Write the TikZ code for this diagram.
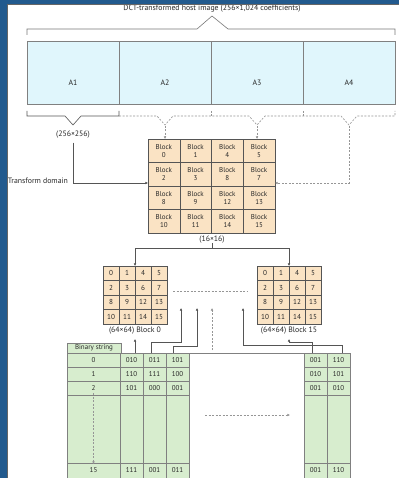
\documentclass[tikz,border=0pt]{standalone}
\usepackage{fontspec}
\setmainfont{PT Sans}
\usetikzlibrary{arrows.meta}
\definecolor{bluebg}{RGB}{34,90,142}
\definecolor{cyanfill}{RGB}{224,246,252}
\definecolor{peach}{RGB}{250,227,196}
\definecolor{greenfill}{RGB}{215,237,206}
\definecolor{linec}{RGB}{85,85,85}
\definecolor{dashc}{RGB}{150,150,150}
\definecolor{txt}{RGB}{40,40,40}
\begin{document}
\begin{tikzpicture}[x=1pt,y=-1pt,
  every node/.style={text=txt, inner sep=0pt, outer sep=0pt},
  lbl/.style={font=\fontsize{7.8}{8}\selectfont},
  conn/.style={draw=linec, line width=0.6pt},
  brc/.style={draw=dashc!80!black, line width=0.6pt},
  dconn/.style={draw=dashc, line width=0.6pt, dash pattern=on 2pt off 1.5pt},
  tip/.style={-{Latex[length=2.6pt,width=2.6pt]}},
  abox/.style={draw=gray, fill=cyanfill, line width=0.5pt, minimum width=92pt, minimum height=63pt},
  bcell/.style={draw=linec, fill=peach, line width=0.5pt, minimum width=31.75pt, minimum height=23.5pt, align=center, font=\fontsize{7}{8}\selectfont},
  scell/.style={draw=linec, fill=peach, line width=0.5pt, minimum width=16pt, minimum height=14.5pt, font=\fontsize{7.2}{8}\selectfont},
  tcell/.style={draw=gray, fill=greenfill, line width=0.5pt, font=\fontsize{7}{8}\selectfont}
]
\useasboundingbox (0,0) rectangle (399,478);
\fill[white] (0,0) rectangle (399,478);

% title and big brace
\node[lbl] (title) at (212,8.5) {DCT-transformed host image (256×1,024 coefficients)};
\draw[brc] (27,35) -- (27,29) -- (197,29) -- (212,16) -- (228,29) -- (395,29) -- (395,35);

% A boxes
\foreach \i/\cx in {1/73,2/165,3/257,4/349} {
  \node[abox] (a\i) at (\cx,72.5) {};
  \node[lbl] (a\i t) at ([yshift=-10.5pt]a\i.center) {A\i};
}

% small braces
\draw[conn] (27,111) -- (27,116) -- (65,116) -- (73,125) -- (81,116) -- (119,116) -- (119,111);
\draw[dconn] (119,116) -- (157,116) -- (165,125) -- (173,116) -- (211,116) -- (249,116) -- (257,125) -- (265,116) -- (303,116) -- (341,116) -- (349,125) -- (357,116) -- (395,116) -- (395,111);
\draw[dconn] (211,111) -- (211,116);
\draw[dconn] (303,111) -- (303,116);
\node[lbl] (l256) at (73,135) {(256×256)};

% block grid
\foreach \r/\row in {0/{0,1,4,5},1/{2,3,8,7},2/{8,9,12,13},3/{10,11,14,15}} {
  \foreach \v [count=\c from 0] in \row {
    \node[bcell] (g-\r-\c) at ({148+31.75*(\c+0.5)},{139+23.5*(\r+0.5)}) {Block\\\v};
  }
}
\node[lbl] (l16) at (212,239.5) {(16×16)};

% connectors top
\coordinate (tdin) at (148,183);
\coordinate (tdout) at (275,183);
\draw[conn,tip] ([yshift=-4pt]l256.south) |- (tdin);
\node[lbl, anchor=east] (tdom) at (68,181) {Transform domain};
\draw[dconn,tip] (165,126) -- (165,139);
\draw[dconn,tip] (257,126) -- (257,139);
\draw[dconn,tip] (349,126) |- (tdout);

% small grids
\foreach \s/\xo in {L/103,R/257} {
  \foreach \r/\row in {0/{0,1,4,5},1/{2,3,6,7},2/{8,9,12,13},3/{10,11,14,15}} {
    \foreach \v [count=\c from 0] in \row {
      \node[scell] (\s-\r-\c) at ({\xo+16*(\c+0.5)},{266+14.5*(\r+0.5)}) {\v};
    }
  }
}
\node[lbl] (labL) at (135,331) {(64×64) Block 0};
\node[lbl] (labR) at (289,331) {(64×64) Block 15};
\coordinate (Ltop) at (135,266);
\coordinate (Rtop) at (289,266);
\draw[conn] (l16.south) -- (212,248) coordinate (split);
\draw[conn,tip] (split) -| (Ltop);
\draw[conn,tip] (split) -| (Rtop);
\draw[dconn] (173,291) -- (247,291);

% table
\node[tcell, minimum width=54pt, minimum height=10pt] (bs) at (94,348) {Binary string};
\foreach \r/\yc/\h/\a/\b/\c/\d/\e/\f in {
  0/360/14/0/010/011/101/001/110,
  1/374/14/1/110/111/100/010/101,
  2/388/14/2/101/000/001/001/010,
  3/429/68/{}/{}/{}/{}/{}/{},
  4/470.5/15/15/111/001/011/001/110} {
  \node[tcell, minimum width=53pt, minimum height=\h pt] (t-\r-0) at (93.5,\yc) {\a};
  \node[tcell, minimum width=23pt, minimum height=\h pt] (t-\r-1) at (131.5,\yc) {\b};
  \node[tcell, minimum width=23pt, minimum height=\h pt] (t-\r-2) at (154.5,\yc) {\c};
  \node[tcell, minimum width=23pt, minimum height=\h pt] (t-\r-3) at (177.5,\yc) {\d};
  \node[tcell, minimum width=23pt, minimum height=\h pt] (t-\r-4) at (315.5,\yc) {\e};
  \node[tcell, minimum width=23pt, minimum height=\h pt] (t-\r-5) at (338.5,\yc) {\f};
}
\draw[draw=gray, line width=0.5pt] (t-0-3.north east) -- (t-0-4.north west);

% connectors bottom
\coordinate (u0) at (135,339);
\coordinate (u1) at (181,308);
\coordinate (u2) at (197,308);
\coordinate (u3) at (212,308);
\coordinate (u4) at (243,308);
\coordinate (u5) at (289,339);
\coordinate (d3) at (212,350);
\draw[conn,tip] (t-0-1.north -| u0) -- (u0);
\draw[conn,tip] ([xshift=-3.5pt]t-0-2.north) -- ++(0,-11) -| (u1);
\draw[conn,tip] ([xshift=-4.5pt]t-0-3.north) -- ++(0,-7) -| (u2);
\draw[dconn,tip] (d3) -- (u3);
\draw[conn,tip] ([xshift=3.5pt]t-0-5.north) -- ++(0,-8) -| (u4);
\draw[conn,tip] ([xshift=-3.5pt]t-0-4.north) -- ++(0,-11) -| (u5);
\coordinate (m1) at (205,415);
\coordinate (m2) at (290,415);
\draw[dconn,tip] (m1) -- (m2);
\draw[dconn,tip] ([yshift=2pt]t-3-0.north) -- ([yshift=-1pt]t-3-0.south);

% blue border
\fill[bluebg] (0,0) rectangle (7,478);
\fill[bluebg] (0,0) rectangle (399,4);
\draw[black!60, line width=0.6pt] (7,478) -- (7,4) -- (399,4);
\end{tikzpicture}
\end{document}
